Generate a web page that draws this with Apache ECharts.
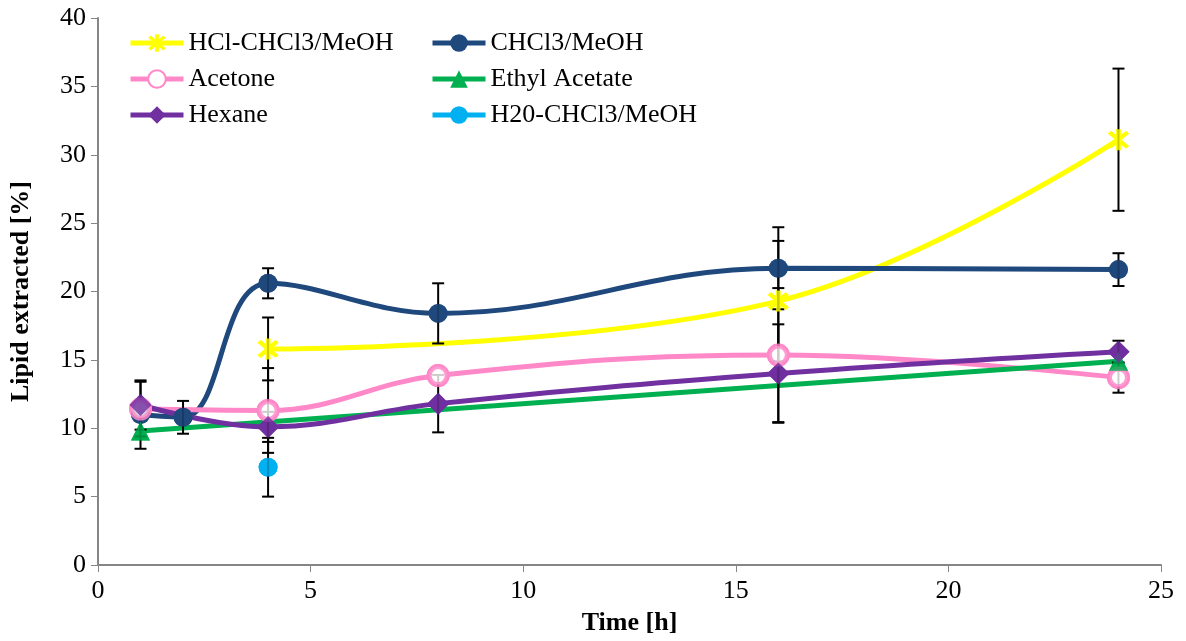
<!DOCTYPE html>
<html>
<head>
<meta charset="utf-8">
<script src="https://cdn.jsdelivr.net/npm/echarts@6/dist/echarts.min.js"></script>
<style>
  html, body { margin: 0; padding: 0; background: #fff; }
  #chart { width: 1186px; height: 641px; }
</style>
</head>
<body>
<div id="chart"></div>
<script>
// Lipid extracted [%] by solvent system over time [h], with error bars (± values)
const hclTime = [4, 16, 24];
const hclLipid = [15.8, 19.3, 31.1];
const hclErr = [2.3, 4.4, 5.2];

const chclTime = [1, 2, 4, 8, 16, 24];
const chclLipid = [11.0, 10.8, 20.6, 18.4, 21.7, 21.6];
const chclErr = [0, 1.2, 1.1, 2.2, 3.0, 1.2];

const acetoneTime = [1, 4, 8, 16, 24];
const acetoneLipid = [11.4, 11.3, 13.85, 15.35, 13.7];
const acetoneErr = [2.0, 3.1, 0, 4.9, 1.1];

const ethylTime = [1, 24];
const ethylLipid = [9.8, 14.9];
const ethylErr = [1.3, 0];

const hexaneTime = [1, 4, 8, 16, 24];
const hexaneLipid = [11.7, 10.1, 11.8, 14.0, 15.6];
const hexaneErr = [1.8, 1.1, 2.1, 3.6, 0.8];

const waterTime = [4];
const waterLipid = [7.15];
const waterErr = [2.15];

const xTicks = [0, 5, 10, 15, 20, 25];
const yTicks = [0, 5, 10, 15, 20, 25, 30, 35, 40];

const FONT = 'Liberation Serif';
const STAR = 'path://M8.2 0H11.8V20H8.2Z M1.6 4.1L4.1 1.6L18.4 15.9L15.9 18.4Z M15.9 1.6L18.4 4.1L4.1 18.4L1.6 15.9Z';

const groups = [
  { name: 'HCl-CHCl3/MeOH', t: hclTime, v: hclLipid, e: hclErr, color: '#FFFF00', symbol: STAR, size: 21, hollow: false },
  { name: 'CHCl3/MeOH', t: chclTime, v: chclLipid, e: chclErr, color: '#1F497D', symbol: 'circle', size: 19, hollow: false },
  { name: 'Acetone', t: acetoneTime, v: acetoneLipid, e: acetoneErr, color: '#FF88C8', symbol: 'circle', size: 18, hollow: true },
  { name: 'Ethyl Acetate', t: ethylTime, v: ethylLipid, e: ethylErr, color: '#00B050', symbol: 'triangle', size: 19, hollow: false },
  { name: 'Hexane', t: hexaneTime, v: hexaneLipid, e: hexaneErr, color: '#7030A0', symbol: 'diamond', size: 22, hollow: false },
  { name: 'H20-CHCl3/MeOH', t: waterTime, v: waterLipid, e: waterErr, color: '#00B0F0', symbol: 'circle', size: 19, hollow: false }
];

function pairs(t, v) { return t.map((x, i) => [x, v[i]]); }

function errorBar(params, api) {
  const x = api.value(0), y = api.value(1), e = api.value(2);
  const top = api.coord([x, y + e]);
  const bot = api.coord([x, y - e]);
  const hw = 6;
  const st = { stroke: '#000', lineWidth: 2 };
  return {
    type: 'group',
    children: [
      { type: 'line', shape: { x1: top[0], y1: top[1], x2: bot[0], y2: bot[1] }, style: st },
      { type: 'line', shape: { x1: top[0] - hw, y1: top[1], x2: top[0] + hw, y2: top[1] }, style: st },
      { type: 'line', shape: { x1: bot[0] - hw, y1: bot[1], x2: bot[0] + hw, y2: bot[1] }, style: st }
    ]
  };
}

const series = [];
groups.forEach(g => {
  const sym = {
    symbol: g.symbol,
    symbolSize: g.size,
    itemStyle: g.hollow
      ? { color: '#fff', borderColor: g.color, borderWidth: 5 }
      : { color: g.color, borderColor: g.color, borderWidth: 0 }
  };
  // line with markers (also drives the legend icon)
  series.push(Object.assign({
    name: g.name,
    type: 'line',
    data: pairs(g.t, g.v),
    smooth: 0.4,
    lineStyle: { color: g.color, width: 5 },
    z: 1,
    animation: false
  }, sym));
  // error bars
  series.push({
    type: 'custom',
    renderItem: errorBar,
    data: g.t.map((x, i) => [x, g.v[i], g.e[i]]).filter(d => d[2] > 0),
    z: 2,
    silent: true,
    animation: false
  });
  // markers drawn over the error bars
  series.push(Object.assign({
    type: 'scatter',
    data: pairs(g.t, g.v),
    z: 3,
    silent: true,
    animation: false
  }, sym));
});

const legendText = { fontFamily: FONT, fontSize: 26, color: '#000' };
const legendBase = {
  orient: 'vertical', top: 25, itemWidth: 53, itemHeight: 22, itemGap: 10,
  textStyle: legendText,
  lineStyle: { width: 5 }
};

const option = {
  backgroundColor: '#fff',
  animation: false,
  grid: { left: 98, right: 25, top: 18, bottom: 75, containLabel: false },
  legend: [
    Object.assign({ left: 123, data: ['HCl-CHCl3/MeOH', 'Acetone', 'Hexane'] }, legendBase),
    Object.assign({ left: 425, data: ['CHCl3/MeOH', 'Ethyl Acetate', 'H20-CHCl3/MeOH'] }, legendBase)
  ],
  xAxis: {
    type: 'value',
    min: xTicks[0], max: xTicks[xTicks.length - 1], interval: 5,
    name: 'Time [h]', nameLocation: 'middle', nameGap: 45,
    nameTextStyle: { fontFamily: FONT, fontSize: 26, fontWeight: 'bold', color: '#000' },
    axisLine: { lineStyle: { color: '#868686', width: 2 } },
    axisTick: { show: true, inside: false, length: 7, lineStyle: { color: '#868686', width: 1 } },
    axisLabel: { fontFamily: FONT, fontSize: 26, color: '#000', margin: 13 },
    splitLine: { show: false }
  },
  yAxis: {
    type: 'value',
    min: yTicks[0], max: yTicks[yTicks.length - 1], interval: 5,
    name: 'Lipid extracted [%]', nameLocation: 'middle', nameGap: 64,
    nameTextStyle: { fontFamily: FONT, fontSize: 26, fontWeight: 'bold', color: '#000' },
    axisLine: { show: true, lineStyle: { color: '#868686', width: 2 } },
    axisTick: { show: true, inside: false, length: 7, lineStyle: { color: '#868686', width: 1 } },
    axisLabel: { fontFamily: FONT, fontSize: 26, color: '#000', margin: 12 },
    splitLine: { show: false }
  },
  series: series
};

const chart = echarts.init(document.getElementById('chart'), null, { renderer: 'canvas' });
chart.setOption(option);
</script>
</body>
</html>
